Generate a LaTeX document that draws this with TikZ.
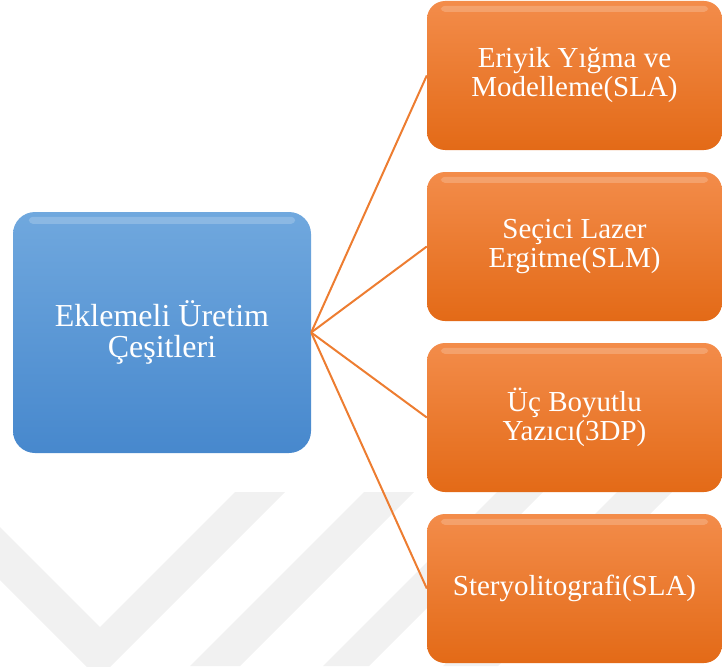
\documentclass[tikz,border=0pt]{standalone}
\usepackage{fontspec}
\setmainfont{Liberation Serif}
\usetikzlibrary{calc}
\definecolor{bluetop}{HTML}{70A8DE}
\definecolor{bluebot}{HTML}{4788CD}
\definecolor{orgtop}{HTML}{F38C4A}
\definecolor{orgbot}{HTML}{E36A17}
\definecolor{conncol}{HTML}{ED7D31}
\definecolor{wmark}{HTML}{F1F1F1}
\begin{document}
\begin{tikzpicture}[x=1pt,y=-1pt,
  mainbox/.style={rounded corners=22pt, top color=bluetop, bottom color=bluebot,
    minimum width=298pt, minimum height=241pt, text=white, align=center,
    font=\fontsize{32}{31}\selectfont, inner sep=0pt},
  subbox/.style={rounded corners=18pt, top color=orgtop, bottom color=orgbot,
    minimum width=295pt, minimum height=149pt, text=white, align=center,
    font=\fontsize{29}{29}\selectfont, inner sep=0pt},
  conn/.style={draw=conncol, line width=2pt},
  shine/.style={fill=white, fill opacity=0.2, rounded corners=4pt}]
\useasboundingbox (0,0) rectangle (722,666);
% faint watermark
\begin{scope}
\clip (0,0) rectangle (722,666);
\fill[wmark] (0,527) -- (100,627) -- (235,492) -- (285,492) -- (98.5,678.5) -- (0,580) -- cycle;
\fill[wmark] (364,492) -- (414,492) -- (240,666) -- (190,666) -- cycle;
\fill[wmark] (497,492) -- (543,492) -- (369,666) -- (323,666) -- cycle;
\fill[wmark] (617,492) -- (672,492) -- (498,666) -- (443,666) -- cycle;
\end{scope}
% boxes
\node[mainbox] (main) at (162,332.5) {Eklemeli Üretim\\Çeşitleri};
\node[subbox] (o1) at (574.5,75.5) {Eriyik Yığma ve\\Modelleme(SLA)};
\node[subbox] (o2) at (574.5,246.5) {Seçici Lazer\\Ergitme(SLM)};
\node[subbox] (o3) at (574.5,417.5) {Üç Boyutlu\\Yazıcı(3DP)};
\node[subbox] (o4) at (574.5,588.5) {Steryolitografi(SLA)};
% gloss
\fill[shine] ($(main.north west)+(16,5)$) rectangle ($(main.north east)+(-16,12)$);
\foreach \b in {o1,o2,o3,o4}{
  \fill[shine] ($(\b.north west)+(14,5)$) rectangle ($(\b.north east)+(-14,11)$);
}
% connectors
\draw[conn] (main.east) -- (o1.west);
\draw[conn] (main.east) -- (o2.west);
\draw[conn] (main.east) -- (o3.west);
\draw[conn] (main.east) -- (o4.west);
\end{tikzpicture}
\end{document}
